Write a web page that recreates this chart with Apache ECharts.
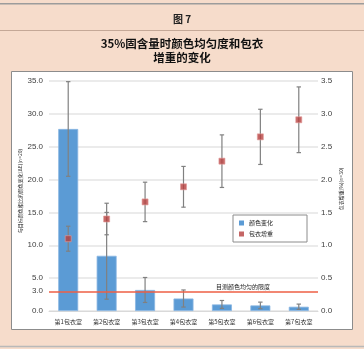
<!DOCTYPE html>
<html><head><meta charset="utf-8">
<script src="https://cdn.jsdelivr.net/npm/echarts@6/dist/echarts.min.js"></script>
<style>html,body{margin:0;padding:0;background:#f6dccb;}#c{width:364px;height:349px;}</style>
</head><body><div id="c"></div>
<script>
const categories = ['第1包衣室','第2包衣室','第3包衣室','第4包衣室','第5包衣室','第6包衣室','第7包衣室'];
const colorChange = [27.7, 8.4, 3.2, 1.9, 1.0, 0.85, 0.65];
const colorChangeErr = [7.2, 6.6, 1.9, 1.3, 0.6, 0.5, 0.4];
const weightGain = [1.10, 1.40, 1.66, 1.89, 2.28, 2.65, 2.91];
const weightGainErr = [0.19, 0.24, 0.30, 0.31, 0.40, 0.42, 0.50];
const leftTicks = [0, 3, 5, 10, 15, 20, 25, 30, 35];
const limitValue = 3.0;

const CJK = '"Noto Sans CJK SC", sans-serif';
const LAT = '"Liberation Sans", Arial, sans-serif';

function errorItem(params, api) {
  const x = api.value(0);
  const lo = api.coord([x, api.value(1)]);
  const hi = api.coord([x, api.value(2)]);
  const cap = 2.2;
  const style = { stroke: '#808080', lineWidth: 1.2 };
  return { type: 'group', children: [
    { type: 'line', shape: { x1: lo[0], y1: lo[1], x2: hi[0], y2: hi[1] }, style },
    { type: 'line', shape: { x1: lo[0] - cap, y1: lo[1], x2: lo[0] + cap, y2: lo[1] }, style },
    { type: 'line', shape: { x1: hi[0] - cap, y1: hi[1], x2: hi[0] + cap, y2: hi[1] }, style }
  ]};
}
const barErrData = colorChange.map((v, i) => [i, v - colorChangeErr[i], v + colorChangeErr[i]]);
const wgErrData = weightGain.map((v, i) => [i, v - weightGainErr[i], v + weightGainErr[i]]);

const titleStyle = { fontFamily: CJK, fontSize: 11.5, fontWeight: 'bold', color: '#111' };

const chart = echarts.init(document.getElementById('c'));
chart.setOption({
  backgroundColor: '#f6dccb',
  animation: false,
  graphic: [
    { type: 'rect', z: -1, shape: { x: 0, y: 3, width: 364, height: 1.5 }, style: { fill: '#9c9c9c' } },
    { type: 'line', z: -1, shape: { x1: 0, y1: 30.5, x2: 364, y2: 30.5 }, style: { stroke: '#c4a897', lineWidth: 1 } },
    { type: 'rect', z: -1, shape: { x: 11.5, y: 71.5, width: 341, height: 258 }, style: { fill: '#ffffff', stroke: '#8c8c8c', lineWidth: 1 } },
    { type: 'line', z: -1, shape: { x1: 0, y1: 346.5, x2: 364, y2: 346.5 }, style: { stroke: '#b9b9b9', lineWidth: 1.5 } }
  ],
  title: [
    { text: '图 7', left: 'center', top: 9, textStyle: { fontFamily: CJK, fontSize: 10, fontWeight: 'bold', color: '#222' } },
    { text: '35%固含量时颜色均匀度和包衣', left: 'center', top: 38, padding: 0, textStyle: titleStyle },
    { text: '增重的变化', left: 'center', top: 51.5, padding: 0, textStyle: titleStyle }
  ],
  legend: {
    orient: 'vertical', left: 233, top: 215,
    padding: [5, 34, 5, 6], itemGap: 5, itemWidth: 5, itemHeight: 5,
    borderColor: '#8c8c8c', borderWidth: 1, backgroundColor: '#fff',
    textStyle: { fontFamily: CJK, fontSize: 6, color: '#222' },
    data: [{ name: '颜色变化', icon: 'rect', itemStyle: { borderWidth: 0 } }, { name: '包衣增重', icon: 'rect', itemStyle: { borderWidth: 0 } }]
  },
  grid: { left: 49, right: 46, top: 81, bottom: 38 },
  xAxis: {
    type: 'category', data: categories,
    axisLine: { lineStyle: { color: '#d9d9d9', width: 1 } },
    axisTick: { show: false },
    axisLabel: { fontFamily: CJK, fontSize: 6, color: '#333', margin: 8 }
  },
  yAxis: [
    { type: 'value', min: 0, max: 35, interval: 5,
      name: '与目标颜色相比的颜色变化(ΔE)(n=20)', nameLocation: 'middle', nameRotate: 90, nameGap: 26,
      nameMoveOverlap: false,
      nameTextStyle: { fontFamily: CJK, fontSize: 5, color: '#222', padding: [0, 0, 0, 10] },
      axisLine: { show: false }, axisTick: { show: false },
      axisLabel: { customValues: leftTicks, formatter: v => v.toFixed(1), fontFamily: LAT, fontSize: 8, color: '#404040', margin: 6 },
      splitLine: { lineStyle: { color: '#e4e4e4', width: 1.5 } } },
    { type: 'value', min: 0, max: 3.5, interval: 0.5,
      name: '包衣增重(%)(n=30)', nameLocation: 'middle', nameRotate: 90, nameGap: 21,
      nameMoveOverlap: false,
      nameTextStyle: { fontFamily: CJK, fontSize: 5, color: '#222', padding: [0, 0, 0, 14] },
      axisLine: { show: false }, axisTick: { show: false },
      axisLabel: { formatter: v => v.toFixed(1), fontFamily: LAT, fontSize: 8, color: '#404040', margin: 3 },
      splitLine: { show: false } }
  ],
  series: [
    { name: '颜色变化', type: 'bar', yAxisIndex: 0, data: colorChange, barWidth: '52%',
      itemStyle: { color: '#5b9bd5', borderColor: '#8ab6e2', borderWidth: 0.8 }, z: 2,
      markLine: {
        silent: true, symbol: 'none',
        lineStyle: { color: '#ee5f45', width: 1.6, type: 'solid' },
        label: { show: true, position: 'insideEndTop', distance: [48, 2], formatter: '目测颜色均匀的限度',
                 fontFamily: CJK, fontSize: 6, color: '#222' },
        data: [{ yAxis: limitValue }]
      } },
    { name: 'barErr', type: 'custom', yAxisIndex: 0, renderItem: errorItem, data: barErrData,
      encode: { x: 0, y: [1, 2] }, z: 4 },
    { name: 'wgErr', type: 'custom', yAxisIndex: 1, renderItem: errorItem, data: wgErrData,
      encode: { x: 0, y: [1, 2] }, z: 4 },
    { name: '包衣增重', type: 'scatter', yAxisIndex: 1, data: weightGain, symbol: 'rect', symbolSize: 6,
      itemStyle: { color: '#b7403f', borderColor: '#e39a98', borderWidth: 0.8 }, z: 5 }
  ]
});
</script></body></html>
